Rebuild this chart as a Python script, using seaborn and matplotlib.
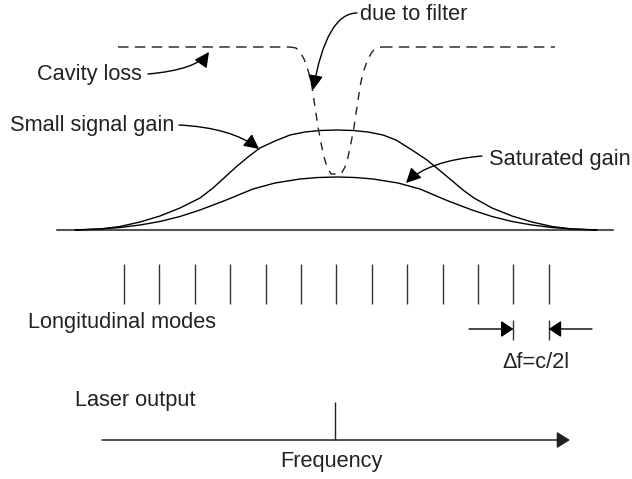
import matplotlib
matplotlib.use("Agg")
import matplotlib.pyplot as plt
import seaborn as sns

# ---------------- data (pixel units) ----------------
small_x = [75, 100, 120, 140, 160, 180, 200, 213, 224, 236, 248, 260, 275, 290, 305, 320, 337,
           353, 368, 383, 396, 412, 427, 438, 450, 463, 474, 492, 512, 532, 552, 572, 597]
small_y = [230, 229, 226.5, 222, 216, 208, 198, 188, 178, 167, 157, 148, 141, 135, 132, 130.5, 130,
           130.5, 132, 135, 140, 150, 160, 169, 179, 190, 198, 208, 216, 222, 226.5, 229, 230]

sat_x = [75, 100, 120, 140, 160, 180, 200, 225, 253, 275, 300, 318, 337,
         355, 373, 398, 420, 447, 472, 492, 512, 532, 552, 572, 597]
sat_y = [230, 229, 227.5, 225, 221.5, 216.5, 210, 200.5, 189, 183, 179, 177.5, 177,
         177.5, 179, 183, 189, 200.5, 210, 216.5, 221.5, 225, 227.5, 229, 230]

loss_left_x = [118, 290]
loss_right_x = [382, 555]
loss_level = 47
dip_x = [290, 296, 300, 304, 307, 310, 312, 315, 318, 321, 324, 327, 331,
         341, 345, 348, 351, 354, 357, 360, 362, 365, 368, 372, 376, 382]
dip_y = [47, 48, 52, 59, 67, 77, 87, 107, 127, 143, 157, 167, 174,
         174, 167, 157, 143, 127, 107, 87, 77, 67, 59, 52, 48, 47]

mode_x = [124, 159.4, 194.8, 230.2, 265.6, 301, 336.4, 371.8, 407.2, 442.6, 478, 513.4, 548.8]
mode_top, mode_bottom = 264, 304

baseline_x = [57, 613]
baseline_y = 230
laser_x = 335
laser_top = 402
freq_axis_x = [102, 570]
freq_axis_y = 440

FS = 15.7
GREY = "#555555"

# ---------------- figure ----------------
sns.set_style("white")
plt.rcParams["font.family"] = ["Liberation Sans", "DejaVu Sans"]

fig = plt.figure(figsize=(6.32, 4.79), dpi=100)
ax = fig.add_axes([0, 0, 1, 1])
ax.set_xlim(0, 632)
ax.set_ylim(479, 0)
ax.axis("off")

# baseline
sns.lineplot(x=baseline_x, y=[baseline_y] * 2, ax=ax, color=GREY, linewidth=1.5,
             sort=False, estimator=None)

# gain curves
sns.lineplot(x=small_x, y=small_y, ax=ax, color="black", linewidth=1.0, sort=False, estimator=None)
sns.lineplot(x=sat_x, y=sat_y, ax=ax, color="black", linewidth=1.0, sort=False, estimator=None)

# cavity loss (dashed): flat parts grey, filter dip finer
for lx in (loss_left_x, loss_right_x):
    sns.lineplot(x=lx, y=[loss_level] * 2, ax=ax, color=GREY, linewidth=1.35, sort=False,
                 estimator=None, linestyle=(0, (5.6, 3.4)))
sns.lineplot(x=dip_x, y=dip_y, ax=ax, color="#222222", linewidth=1.0, sort=False,
             estimator=None, linestyle=(0, (5.8, 5)))

# longitudinal modes
ax.vlines(mode_x, mode_top, mode_bottom, color="#333333", linewidth=1.0)

# laser output line and frequency axis
ax.vlines([laser_x], laser_top, freq_axis_y, color="#222222", linewidth=1.0)
ax.annotate("", xy=(freq_axis_x[1], freq_axis_y), xytext=(freq_axis_x[0], freq_axis_y),
            arrowprops=dict(arrowstyle="-|>,head_length=0.8,head_width=0.5", color="#222222",
                            lw=1.1, shrinkA=0, shrinkB=0, mutation_scale=10))

# delta f markers
ax.vlines([513.4, 548.8], 320, 340, color="#333333", linewidth=1.0)
ax.annotate("", xy=(513.4, 329), xytext=(469, 329),
            arrowprops=dict(arrowstyle="-|>,head_length=0.75,head_width=0.5", color="black",
                            lw=1.0, shrinkA=0, shrinkB=0, mutation_scale=10))
ax.annotate("", xy=(548.8, 329), xytext=(592, 329),
            arrowprops=dict(arrowstyle="-|>,head_length=0.75,head_width=0.5", color="black",
                            lw=1.0, shrinkA=0, shrinkB=0, mutation_scale=10))

# labelled curved arrows
arrow_kw = dict(arrowstyle="-|>,head_length=0.9,head_width=0.45", color="black", lw=1.0,
                shrinkA=0, shrinkB=0, mutation_scale=10)
ax.annotate("", xy=(313, 90), xytext=(357, 13),
            arrowprops=dict(connectionstyle="angle3,angleA=0,angleB=80", **arrow_kw))
ax.annotate("", xy=(209, 52), xytext=(148, 74),
            arrowprops=dict(connectionstyle="angle3,angleA=5,angleB=55", **arrow_kw))
ax.annotate("", xy=(259, 149), xytext=(179, 125),
            arrowprops=dict(connectionstyle="angle3,angleA=-3,angleB=-38", **arrow_kw))
ax.annotate("", xy=(406, 183), xytext=(482, 156),
            arrowprops=dict(connectionstyle="angle3,angleA=5,angleB=45", **arrow_kw))

# texts
txt = dict(fontsize=FS, color="#222222", va="baseline", ha="left")
ax.text(360, 20, "due to filter", **txt)
ax.text(37, 80, "Cavity loss", **txt)
ax.text(10, 131, "Small signal gain", **txt)
ax.text(489, 165, "Saturated gain", **txt)
ax.text(28, 328, "Longitudinal modes", **txt)
ax.text(502, 368, "\u0394f=c/2l", **txt)
ax.text(75, 406, "Laser output", **txt)
ax.text(280, 467, "Frequency", **txt)

fig.savefig("out.png", dpi=100)
